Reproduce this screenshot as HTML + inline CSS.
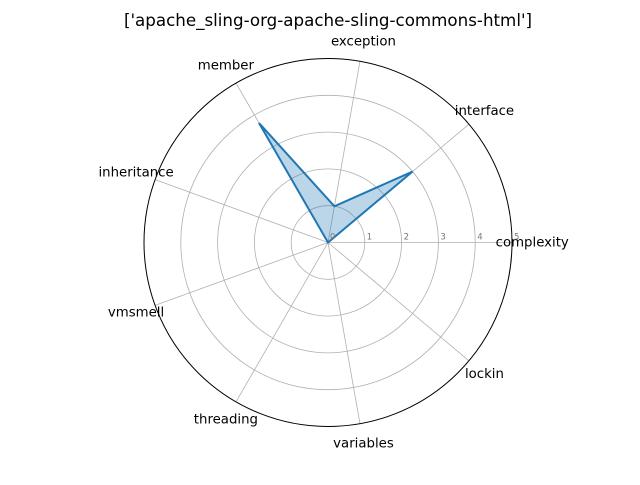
<!DOCTYPE html>
<html><head><meta charset="utf-8"><style>body{margin:0;background:#fff}svg{font-family:"DejaVu Sans","Liberation Sans",sans-serif}</style></head>
<body>
<svg id="chart" width="640" height="480">
<rect width="640" height="480" fill="#fff"/>
<text x="328" y="26" text-anchor="middle" font-size="16.7">['apache_sling-org-apache-sling-commons-html']</text>
<g id="grid"></g><g id="series"></g><g id="labels"></g>
</svg>
<script>
const categories = ["complexity","interface","exception","member","inheritance","vmsmell","threading","variables","lockin"];
const values = [0, 3, 1, 3.75, 0, 0, 0, 0, 0];
const ticks = [0,1,2,3,4,5];
const cx=328, cy=242.5, R=184, maxV=5;
const ns="http://www.w3.org/2000/svg";
function rScale(v){return v/maxV*R;}
function ang(i){return i*2*Math.PI/categories.length;}
function pt(i,v){const a=ang(i),r=rScale(v);return [cx+r*Math.cos(a), cy-r*Math.sin(a)];}
function mk(t,attrs,parent){const e=document.createElementNS(ns,t);for(const k in attrs)e.setAttribute(k,attrs[k]);parent.appendChild(e);return e;}
const grid=document.getElementById('grid'), ser=document.getElementById('series'), lab=document.getElementById('labels');
ticks.slice(1,-1).forEach(t=>{
  const c=mk('circle',{cx,cy,r:rScale(t),fill:'none',stroke:'#b0b0b0','stroke-width':0.8},grid);
  
  
});
categories.forEach((c,i)=>{
  const [x,y]=pt(i,maxV);
  const l=mk('line',{x1:cx,y1:cy,x2:x,y2:y,stroke:'#b0b0b0','stroke-width':0.8},grid);
  
  
  const [lx,ly]=pt(i,maxV*1.11);
  const t=mk('text',{x:lx,y:ly+4,'text-anchor':'middle','font-size':13.3},lab);
  t.textContent=c;
  
  
});
const outer=mk('circle',{cx,cy,r:R,fill:'none',stroke:'#000','stroke-width':1},grid);


ticks.forEach(t=>{
  const tx=mk('text',{x:cx+rScale(t)+2,y:cy-3,'font-size':8.5,fill:'#777'},lab);
  tx.textContent=t;
  
  
});
const pts=values.map((v,i)=>pt(i,v).join(',')).join(' ');
const poly=mk('polygon',{points:pts,fill:'rgba(31,119,180,0.3)',stroke:'#1f77b4','stroke-width':2,'stroke-linejoin':'miter'},ser);


</script>
</body></html>
